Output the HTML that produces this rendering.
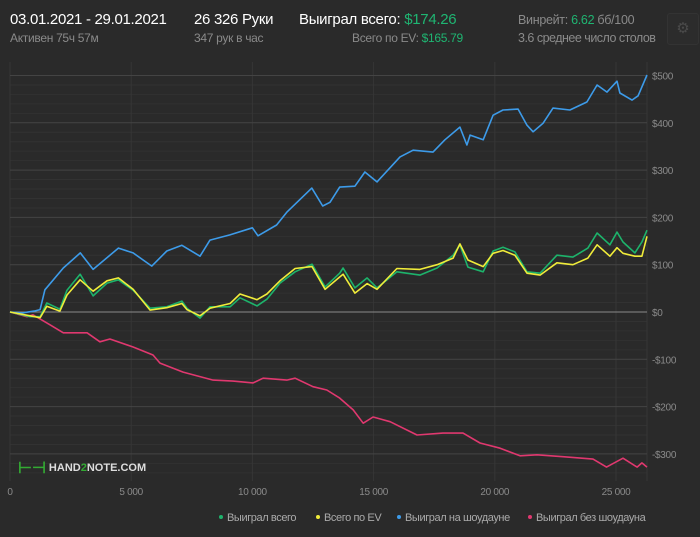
<!DOCTYPE html>
<html><head><meta charset="utf-8">
<style>
html,body{margin:0;padding:0;background:#2a2a2a;}
body{width:700px;height:537px;overflow:hidden;position:relative;font-family:"Liberation Sans","Noto Sans CJK SC",sans-serif;}
.t{position:absolute;white-space:nowrap;}
.w{color:#fff;font-size:15px;letter-spacing:-0.3px;}
.g{color:#8a8a8a;font-size:12px;letter-spacing:-0.3px;}
.v{color:#1fb572;}
</style></head>
<body>
<div class="t w" style="left:10px;top:11px">03.01.2021 - 29.01.2021</div>
<div class="t g" style="left:10px;top:31px">Активен 75ч 57м</div>
<div class="t w" style="left:194px;top:11px">26 326 Руки</div>
<div class="t g" style="left:194px;top:31px">347 рук в час</div>
<div class="t w" style="left:299px;top:11px">Выиграл всего: <span class="v">$174.26</span></div>
<div class="t g" style="left:352px;top:31px">Всего по EV: <span class="v">$165.79</span></div>
<div class="t g" style="left:518px;top:13px;font-size:12.5px">Винрейт: <span class="v">6.62</span> бб/100</div>
<div class="t g" style="left:518px;top:31px;font-size:12.5px;letter-spacing:-0.5px">3.6 среднее число столов</div>
<div style="position:absolute;left:667px;top:13px;width:30px;height:30px;border:1px solid #333;border-radius:3px;background:#2c2c2c;color:#4a4a4a;font-size:15px;text-align:center;line-height:30px">⚙</div>
<svg id="chart" width="700" height="537" style="position:absolute;left:0;top:0"></svg>
<div class="t" style="left:18px;top:458px;font-size:11px;font-weight:bold;color:#ddd"><span style="color:#3a3;font-size:16px;vertical-align:-2px">⊢⊣</span> HAND<span style="color:#3a3">2</span>NOTE.COM</div>
<script>
const blueHands=[0,500,1000,1240,1440,2200,2900,3430,4470,5080,5850,6470,7090,7840,8250,9070,10000,10230,11000,11420,12450,12900,13200,13600,14230,14640,15140,16090,16630,17450,17940,18560,18850,18980,19520,19930,20340,20960,21330,21580,21990,22400,23100,23800,24220,24630,25040,25160,25660,25910,26280];
const blueVals=[0,-2,2,5,47,93,125,90,135,125,97,129,141,118,152,163,178,161,184,211,262,224,232,264,266,296,275,328,342,338,364,391,353,374,364,416,427,429,395,381,399,431,427,444,480,465,488,463,448,457,501];
const greenHands=[0,830,1240,1520,2060,2350,2890,3430,4000,4470,5080,5780,6470,7090,7300,7840,8250,9080,9490,10190,10600,11140,11760,12460,13000,13600,13740,14230,14730,15140,15960,16910,17620,18280,18560,18890,19520,19930,20340,20830,21330,21870,22560,23220,23840,24220,24750,25040,25290,25780,26070,26280];
const greenVals=[0,-10,-10,19,6,46,80,34,61,68,46,8,11,23,8,-13,11,11,30,13,27,61,85,101,53,82,93,51,72,51,85,78,93,120,142,95,85,129,137,127,85,82,120,116,135,167,142,169,148,125,148,173];
const yellowVals=[0,-8,-12,12,2,36,68,44,66,72,48,4,9,18,5,-8,8,18,38,26,38,66,92,96,48,74,80,40,60,48,92,90,100,114,144,110,96,124,130,120,82,78,104,100,114,142,118,136,124,118,118,160];
const pinkHands=[0,700,950,1650,2200,3180,3710,4120,5080,5900,6190,7140,8380,9200,10030,10440,11420,11760,12500,13070,13600,14160,14570,14980,15680,16790,17860,18690,19390,20220,21040,21740,22810,24050,24610,25290,25870,26070,26280];
const pinkVals=[0,-10,-6,-27,-44,-44,-63,-57,-74,-91,-108,-127,-144,-146,-150,-140,-144,-140,-158,-165,-182,-207,-235,-222,-232,-260,-256,-256,-277,-288,-304,-302,-306,-311,-328,-309,-328,-319,-328];
const xTicks=[0,5000,10000,15000,20000,25000];
const xTickLabels=["0","5 000","10 000","15 000","20 000","25 000"];
const yTicks=[-300,-200,-100,0,100,200,300,400,500];
const yTickLabels=["-$300","-$200","-$100","$0","$100","$200","$300","$400","$500"];
const NS="http://www.w3.org/2000/svg";
const svg=document.getElementById('chart');
const X0=10,X1=647,Ytop=62,Ybot=481;
function x(h){return 10+h*0.02424;}
function y(v){return 312-v*0.473;}
function mk(tag,attrs){const e=document.createElementNS(NS,tag);for(const k in attrs)e.setAttribute(k,attrs[k]);svg.appendChild(e);return e;}
for(let v=-340;v<=500;v+=20){
  if(v%100===0)continue;
  const l=mk('line',{x1:X0,x2:X1,y1:y(v),y2:y(v),stroke:'#323232','stroke-width':1});
  
  
}
xTicks.forEach((t,i)=>{
  const l=mk('line',{x1:x(t),x2:x(t),y1:Ytop,y2:Ybot,stroke:'#363636','stroke-width':1});
  
  
  const tx=mk('text',{x:x(t),y:495,fill:'#8a8a8a','font-size':10,'text-anchor':'middle','font-family':'Liberation Sans, sans-serif','letter-spacing':'-0.3'});
  tx.textContent=xTickLabels[i];
  
  
});
const rl=mk('line',{x1:X1,x2:X1,y1:Ytop,y2:Ybot,stroke:'#363636'});


yTicks.forEach((t,i)=>{
  const l=mk('line',{x1:X0,x2:X1,y1:y(t),y2:y(t),stroke:t===0?'#8a8a8a':'#444','stroke-width':1});
  
  
  const tx=mk('text',{x:652,y:y(t)+4,fill:'#8a8a8a','font-size':10,'font-family':'Liberation Sans, sans-serif','letter-spacing':'-0.3'});
  tx.textContent=yTickLabels[i];
  
  
});
function line(hs,vs,color,name){
  const d=hs.map((h,i)=>(i?'L':'M')+x(h).toFixed(1)+','+y(vs[i]).toFixed(1)).join('');
  const p=mk('path',{d:d,fill:'none',stroke:color,'stroke-width':1.6,'stroke-linejoin':'round'});
  
  
}
line(pinkHands,pinkVals,'#e0386f','line-won-without-showdown');
line(blueHands,blueVals,'#3d9be9','line-won-at-showdown');
line(greenHands,greenVals,'#1db36b','line-total-won');
line(greenHands,yellowVals,'#f0ec3a','line-ev-total');
const legend=[["Выиграл всего","#1db36b",221],["Всего по EV","#f0ec3a",318],["Выиграл на шоудауне","#3d9be9",399],["Выиграл без шоудауна","#e0386f",530]];
legend.forEach(l=>{
  const c=mk('circle',{cx:l[2],cy:517,r:2,fill:l[1]});
  
  
  const t=mk('text',{x:l[2]+6,y:521,fill:'#aaa','font-size':11,'font-family':'Liberation Sans, sans-serif','letter-spacing':'-0.4'});
  t.textContent=l[0];
  
  
});
</script>
</body></html>
